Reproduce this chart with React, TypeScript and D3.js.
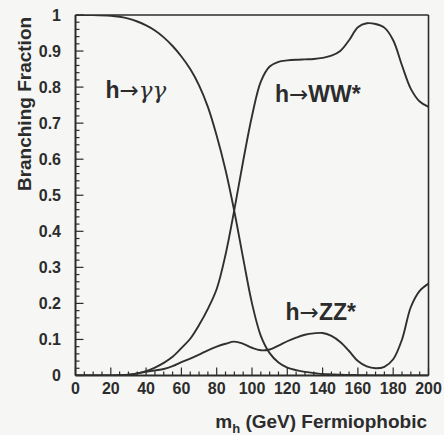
import React from "react";
import * as d3 from "d3";

const W = 444;
const H = 435;

const massGrid = [0, 10, 20, 25, 30, 35, 40, 45, 50, 55, 60, 65, 70, 75, 80, 85, 90, 95, 100, 105, 110, 115, 120, 125, 130, 135, 140, 145, 150, 155, 160, 165, 170, 175, 180, 185, 190, 195, 200];

const brGammaGamma = [1.0, 1.0, 0.998, 0.995, 0.99, 0.982, 0.971, 0.957, 0.938, 0.914, 0.885, 0.85, 0.805, 0.745, 0.665, 0.57, 0.455, 0.325, 0.2, 0.11, 0.062, 0.036, 0.022, 0.015, 0.01, 0.007, 0.004, 0.003, 0.002, 0.0015, 0.001, 0.0005, 0, 0, 0, 0, 0, 0, 0];

const brWW = [0, 0, 0, 0.001, 0.002, 0.006, 0.012, 0.022, 0.035, 0.052, 0.076, 0.102, 0.14, 0.185, 0.24, 0.335, 0.46, 0.595, 0.72, 0.815, 0.857, 0.87, 0.874, 0.876, 0.877, 0.878, 0.881, 0.887, 0.9, 0.93, 0.966, 0.977, 0.975, 0.965, 0.93, 0.86, 0.795, 0.76, 0.745];

const brZZ = [0, 0, 0, 0, 0.002, 0.006, 0.01, 0.014, 0.018, 0.026, 0.037, 0.047, 0.058, 0.07, 0.08, 0.088, 0.094, 0.088, 0.077, 0.07, 0.072, 0.083, 0.095, 0.105, 0.113, 0.117, 0.118, 0.11, 0.093, 0.068, 0.04, 0.025, 0.02, 0.024, 0.045, 0.1, 0.19, 0.235, 0.255];

const xMajorTicks = [0, 20, 40, 60, 80, 100, 120, 140, 160, 180, 200];
const yMajorTicks = [0, 0.1, 0.2, 0.3, 0.4, 0.5, 0.6, 0.7, 0.8, 0.9, 1];
const yTickLabels = ["0", "0.1", "0.2", "0.3", "0.4", "0.5", "0.6", "0.7", "0.8", "0.9", "1"];

const annotations = [
  { head: "h", tail: "\u03b3\u03b3", greek: true, m: 17, br: 0.77 },
  { head: "h", tail: "WW*", greek: false, m: 113, br: 0.76 },
  { head: "h", tail: "ZZ*", greek: false, m: 119, br: 0.155 },
];

const FONT = "'Liberation Sans', Arial, Helvetica, sans-serif";
const INK = "#2c2c2c";

export default function App() {
  const x = d3.scaleLinear().domain([0, 200]).range([75.5, 428.5]);
  const y = d3.scaleLinear().domain([0, 1]).range([375.5, 15]);

  const line = d3
    .line<number>()
    .x((_, i) => x(massGrid[i]))
    .y((d) => y(d))
    .curve(d3.curveCatmullRom.alpha(0.5));

  const xMinor = d3.range(0, 201, 5);
  const yMinor = d3.range(0, 51).map((i) => i * 0.02);

  return (
    <svg
      width={W}
      height={H}
      style={{ position: "absolute", left: 0, top: 0, background: "#f6f6f4" }}
    >
      <rect x={0} y={0} width={W} height={H} fill="#f6f6f4" />
      <defs>
        <clipPath id="plotclip">
          <rect x={x(0)} y={y(1)} width={x(200) - x(0)} height={y(0) - y(1)} />
        </clipPath>
      </defs>

      {/* frame */}
      <line x1={x(0)} x2={x(200)} y1={y(1)} y2={y(1)} stroke={INK} strokeWidth={1.6} />
      <line x1={x(200)} x2={x(200)} y1={y(1)} y2={y(0)} stroke={INK} strokeWidth={1.6} />
      <line x1={x(0)} x2={x(0)} y1={y(1)} y2={y(0)} stroke={INK} strokeWidth={2} />
      <line x1={x(0)} x2={x(200)} y1={y(0)} y2={y(0)} stroke={INK} strokeWidth={2} />

      {/* y ticks */}
      {yMinor.map((v, i) => (
        <line
          key={"ym" + i}
          x1={x(0)}
          x2={x(0) + (i % 5 === 0 ? 8 : 4)}
          y1={y(v)}
          y2={y(v)}
          stroke={INK}
          strokeWidth={1.2}
        />
      ))}
      {/* x ticks */}
      {xMinor.map((v, i) => (
        <line
          key={"xm" + i}
          x1={x(v)}
          x2={x(v)}
          y1={y(0)}
          y2={y(0) - (v % 20 === 0 ? 8 : 4)}
          stroke={INK}
          strokeWidth={1.2}
        />
      ))}

      {/* y tick labels */}
      {yMajorTicks.map((v, i) => (
        <text
          key={"yl" + i}
          x={61}
          y={y(v) + 5.5}
          textAnchor="end"
          fontFamily={FONT}
          fontWeight="bold"
          fontSize={16}
          fill={INK}
        >
          {yTickLabels[i]}
        </text>
      ))}
      {/* x tick labels */}
      {xMajorTicks.map((v, i) => (
        <text
          key={"xl" + i}
          x={x(v)}
          y={394}
          textAnchor="middle"
          fontFamily={FONT}
          fontWeight="bold"
          fontSize={16}
          fill={INK}
        >
          {String(v)}
        </text>
      ))}

      {/* axis titles */}
      <text
        transform="translate(31,104) rotate(-90)"
        textAnchor="middle"
        fontFamily={FONT}
        fontWeight="bold"
        fontSize={19}
        fill={INK}
      >
        Branching Fraction
      </text>
      <text
        x={427}
        y={428}
        textAnchor="end"
        fontFamily={FONT}
        fontWeight="bold"
        fontSize={19}
        fill={INK}
      >
        m
        <tspan fontSize={13} dy={5}>h</tspan>
        <tspan dy={-5}> (GeV) Fermiophobic</tspan>
      </text>

      {/* curves */}
      <g clipPath="url(#plotclip)" fill="none" stroke="#303030" strokeWidth={1.9}>
        <path d={line(brGammaGamma) || ""} />
        <path d={line(brWW) || ""} />
        <path d={line(brZZ) || ""} />
      </g>

      {/* annotations */}
      {annotations.map((a, i) => (
        <text
          key={"an" + i}
          x={x(a.m)}
          y={y(a.br)}
          fontFamily={FONT}
          fontWeight="bold"
          fontSize={23}
          fill={INK}
        >
          {a.head}
          <tspan fontFamily="'DejaVu Sans', sans-serif" fontWeight="normal">
            {"\u2192"}
          </tspan>
          {a.greek ? (
            <tspan fontFamily="'DejaVu Serif', serif" fontWeight="normal" fontStyle="italic">
              {a.tail}
            </tspan>
          ) : (
            <tspan>{a.tail}</tspan>
          )}
        </text>
      ))}
    </svg>
  );
}
